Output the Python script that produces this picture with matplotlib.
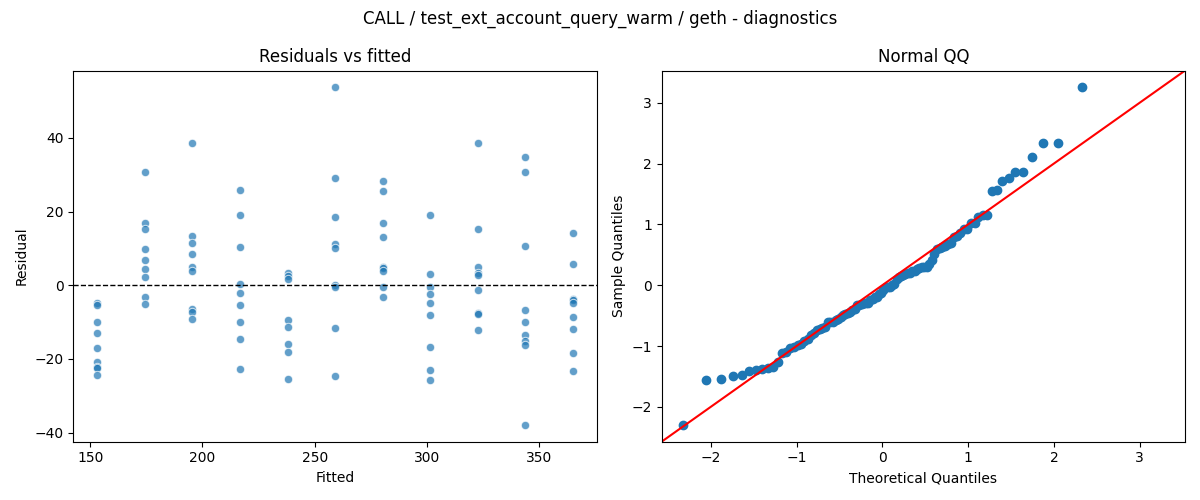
import numpy as np
import matplotlib
matplotlib.use("Agg")
from matplotlib import pyplot as plt
from statistics import NormalDist

# fitted value of each group (x position in the residual plot)
fitted_groups = [153.1, 174.3, 195.5, 216.7, 237.9, 259.1, 280.3, 301.5, 322.7, 343.9, 365.1]

# residuals, one list per fitted group
resid_groups = [
    [-4.9, -5.4, -10.0, -13.0, -17.1, -20.7, -22.1, -22.5, -24.3],
    [30.7, 16.8, 15.4, 9.8, 6.8, 4.3, 2.3, -3.1, -5.2],
    [38.5, 13.4, 11.4, 8.4, 5.0, 3.8, -6.4, -7.2, -9.2],
    [25.8, 19.0, 10.4, 0.3, -2.1, -5.4, -10.0, -14.5, -22.7],
    [3.3, 2.5, 1.8, -9.4, -11.3, -15.9, -18.1, -25.4],
    [53.7, 29.0, 18.6, 11.2, 10.2, 0.2, -0.4, -11.6, -24.6],
    [28.2, 25.5, 16.8, 13.1, 5.0, 4.6, 3.8, -0.4, -3.2],
    [19.0, 3.1, -0.4, -2.4, -4.9, -8.1, -16.8, -23.1, -25.8],
    [38.7, 15.4, 5.0, 3.2, 2.9, -1.4, -7.5, -7.9, -12.2],
    [34.7, 30.7, 10.6, -6.7, -10.0, -13.6, -15.2, -16.3, -37.9],
    [14.2, 5.8, -3.6, -4.1, -4.9, -8.6, -11.9, -18.4, -23.3],
]

title = "CALL / test_ext_account_query_warm / geth - diagnostics"

fitted = []
resid = []
for f, rs in zip(fitted_groups, resid_groups):
    for r in rs:
        fitted.append(f)
        resid.append(r)
fitted = np.array(fitted)
resid = np.array(resid)

fig, (ax1, ax2) = plt.subplots(1, 2, figsize=(12, 5), dpi=100)

# residuals vs fitted
ax1.scatter(fitted, resid, s=36, color="#1f77b4", alpha=0.7,
            edgecolors="white", linewidths=0.75)
ax1.axhline(0, color="black", linestyle="--", linewidth=1)
ax1.set_title("Residuals vs fitted")
ax1.set_xlabel("Fitted")
ax1.set_ylabel("Residual")

# normal QQ of standardized residuals
n = len(resid)
nd = NormalDist()
theo = np.array([nd.inv_cdf(i / (n + 1)) for i in range(1, n + 1)])
sample = np.sort((resid - resid.mean()) / resid.std())
ax2.plot(theo, sample, marker="o", linestyle="None", color="#1f77b4")
ax2.margins(0.05)
xl = ax2.get_xlim()
yl = ax2.get_ylim()
lo = min(xl[0], yl[0])
hi = max(xl[1], yl[1])
ax2.plot([lo, hi], [lo, hi], color="red")
ax2.set_xlim(lo, hi)
ax2.set_ylim(lo, hi)
ax2.set_title("Normal QQ")
ax2.set_xlabel("Theoretical Quantiles")
ax2.set_ylabel("Sample Quantiles")

fig.suptitle(title)
fig.tight_layout()
fig.savefig("out.png")
